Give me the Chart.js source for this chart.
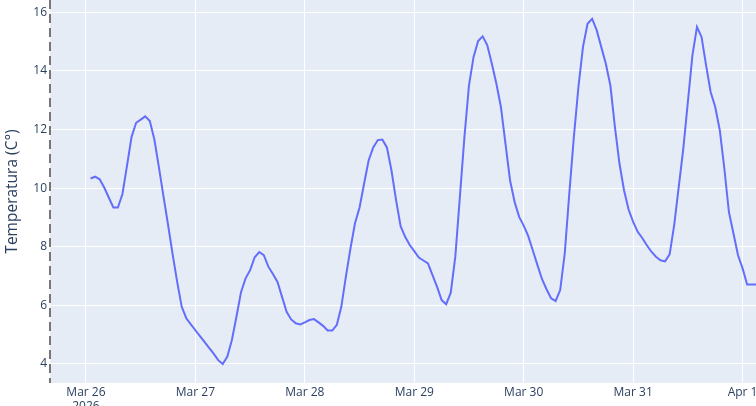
<!DOCTYPE html>
<html lang="en">
<head>
    <meta charset="UTF-8">
    <title>Temperatura</title>
    <style>
        body {
            margin: 0;
            background-color: #ffffff;
            overflow: hidden;
        }
        .chart-container {
            position: absolute;
            left: 0;
            top: 0;
            width: 800px;
            height: 420px;
        }
    </style>
</head>
<body>
    <div class="chart-container">
        <canvas id="tempChart" width="800" height="420"></canvas>
    </div>

    <script src="https://cdn.jsdelivr.net/npm/chart.js"></script>

    <script>
        // hourly readings, first one at Mar 26 01:00
        const firstHour = 1;
        const temps = [
            10.33, 10.39, 10.30, 10.02, 9.68, 9.34, 9.34, 9.80, 10.77, 11.75,
            12.23, 12.34, 12.45, 12.29, 11.66, 10.71, 9.72, 8.75, 7.75, 6.80,
            5.95, 5.56, 5.35, 5.15, 4.95, 4.75, 4.55, 4.35, 4.13, 4.00,
            4.25, 4.82, 5.61, 6.45, 6.92, 7.20, 7.64, 7.82, 7.71, 7.32,
            7.07, 6.80, 6.29, 5.78, 5.52, 5.39, 5.35, 5.42, 5.50, 5.53,
            5.42, 5.30, 5.14, 5.14, 5.33, 5.95, 6.98, 7.94, 8.80, 9.34,
            10.16, 10.95, 11.39, 11.64, 11.66, 11.39, 10.60, 9.60, 8.70, 8.34,
            8.06, 7.85, 7.63, 7.53, 7.43, 7.03, 6.63, 6.18, 6.04, 6.43,
            7.66, 9.70, 11.75, 13.51, 14.48, 15.02, 15.18, 14.88, 14.25, 13.57,
            12.77, 11.52, 10.27, 9.53, 9.02, 8.72, 8.36, 7.87, 7.38, 6.90,
            6.55, 6.24, 6.15, 6.52, 7.77, 9.82, 11.75, 13.45, 14.82, 15.61,
            15.78, 15.39, 14.82, 14.25, 13.51, 12.09, 10.84, 9.93, 9.27, 8.85,
            8.51, 8.30, 8.05, 7.83, 7.66, 7.54, 7.50, 7.74, 8.74, 10.04,
            11.35, 12.94, 14.53, 15.50, 15.16, 14.19, 13.28, 12.77, 11.98, 10.67,
            9.19, 8.45, 7.71, 7.26, 6.71, 6.71, 6.71
        ];
        const dayLabels = ['Mar 26', 'Mar 27', 'Mar 28', 'Mar 29', 'Mar 30', 'Mar 31', 'Apr 1'];
        const yearLabel = '2026';
        const yTicks = [4, 6, 8, 10, 12, 14, 16];
        const yTitle = 'Temperatura (C°)';

        const points = temps.map((t, i) => ({ x: firstHour + i, y: t }));
        const dayTicks = dayLabels.map((d, i) => i * 24);

        // plot background + dashed line on the left edge
        const plotFrame = {
            id: 'plotFrame',
            beforeDraw(chart) {
                const a = chart.chartArea;
                const ctx = chart.ctx;
                ctx.save();
                ctx.fillStyle = '#e5ecf6';
                ctx.fillRect(a.left, a.top, a.right - a.left, a.bottom - a.top);
                ctx.restore();
            },
            afterDatasetsDraw(chart) {
                const a = chart.chartArea;
                const ctx = chart.ctx;
                ctx.save();
                ctx.strokeStyle = '#777777';
                ctx.lineWidth = 2;
                ctx.setLineDash([9, 5]);
                ctx.beginPath();
                ctx.moveTo(a.left, a.top);
                ctx.lineTo(a.left, a.bottom);
                ctx.stroke();
                ctx.restore();
            }
        };

        const font = { family: '"Open Sans", Arial, sans-serif', size: 12 };

        new Chart(document.getElementById('tempChart'), {
            type: 'line',
            data: {
                datasets: [{
                    data: points,
                    borderColor: '#636efa',
                    borderWidth: 2,
                    pointRadius: 0,
                    fill: false,
                    tension: 0
                }]
            },
            options: {
                responsive: false,
                animation: false,
                layout: { padding: { left: 0, right: 10, top: 0, bottom: 0 } },
                plugins: {
                    legend: { display: false },
                    tooltip: { enabled: false }
                },
                scales: {
                    x: {
                        type: 'linear',
                        min: -7.89,
                        max: 154.4,
                        afterBuildTicks: scale => {
                            scale.ticks = dayTicks.map(v => ({ value: v }));
                        },
                        afterFit: scale => {
                            scale.height = 37;
                            scale.paddingLeft = 0;
                            scale.paddingRight = 0;
                        },
                        ticks: {
                            maxRotation: 0,
                            autoSkip: false,
                            padding: 2,
                            color: '#2a3f5f',
                            font: font,
                            callback: (v) => {
                                const i = dayTicks.indexOf(v);
                                return i === 0 ? [dayLabels[0], yearLabel] : dayLabels[i];
                            }
                        },
                        grid: { color: '#ffffff', lineWidth: 1, drawTicks: false },
                        border: { display: false }
                    },
                    y: {
                        min: 3.35,
                        max: 16.42,
                        afterBuildTicks: scale => {
                            scale.ticks = yTicks.map(v => ({ value: v }));
                        },
                        afterFit: scale => {
                            scale.width = 50;
                            scale.paddingTop = 0;
                            scale.paddingBottom = 0;
                        },
                        ticks: {
                            padding: 3,
                            color: '#2a3f5f',
                            font: font
                        },
                        grid: { color: '#ffffff', lineWidth: 1, drawTicks: false },
                        border: { display: false },
                        title: {
                            display: true,
                            text: yTitle,
                            color: '#2a3f5f',
                            font: { family: '"Open Sans", Arial, sans-serif', size: 15.5 },
                            padding: { top: 3, bottom: 0 }
                        }
                    }
                }
            },
            plugins: [plotFrame]
        });
    </script>
</body>
</html>
